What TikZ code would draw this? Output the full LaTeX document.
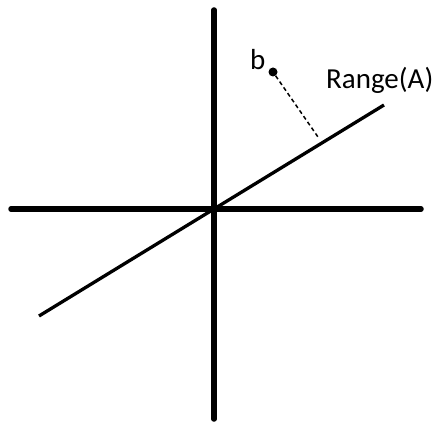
\documentclass[tikz,border=0pt]{standalone}
\usepackage{fontspec}
\setmainfont{Carlito}
\usetikzlibrary{positioning}
\tikzset{
    font=\fontsize{29}{32}\selectfont,
    axis_line/.style={
        line width=5.5pt,
        line cap=round
    },
    range_line/.style={
        line width=3.3pt
    },
    proj_line/.style={
        line width=1.5pt,
        dash pattern=on 4pt off 3pt
    },
    point_dot/.style={
        circle,
        fill=black,
        inner sep=0pt,
        minimum size=9pt
    },
    plot_label/.style={
        inner sep=0pt
    }
}

\begin{document}
\begin{tikzpicture}[x=1pt, y=-1pt]
\useasboundingbox (0,0) rectangle (436,422);

% --- Axes ---
\coordinate (xLeft) at (11,209);
\coordinate (xRight) at (421,209);
\coordinate (yTop) at (214,10);
\coordinate (yBottom) at (214,419);
\coordinate (origin) at (214,209);

% --- Range(A) ---
\coordinate (rangeLow) at (39,316);
\coordinate (rangeHigh) at (384,105);
\coordinate (foot) at (318,137);

% --- Point b ---
\node[point_dot] (b) at (273,72) {};
\node[plot_label, anchor=base west] (bLabel) at (250,70) {b};
\node[plot_label, anchor=base west] (rangeLabel) at (326,89) {Range(A)};

% --- Lines ---
\draw[axis_line] (xLeft) -- (xRight);
\draw[axis_line] (yTop) -- (yBottom);
\draw[range_line] (rangeLow) -- (rangeHigh);
\draw[proj_line] (b) -- (foot);

\end{tikzpicture}
\end{document}
